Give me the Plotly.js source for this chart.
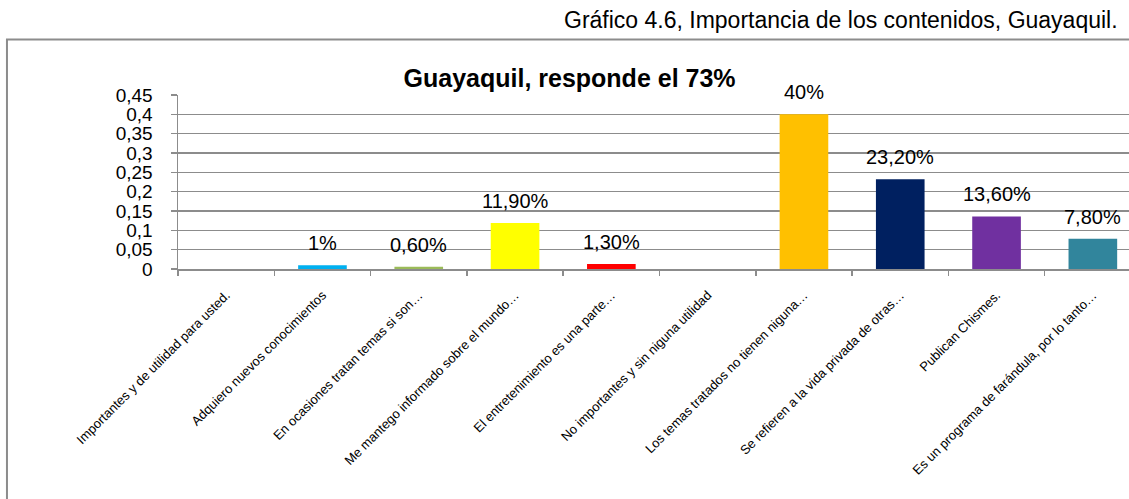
<!DOCTYPE html>
<html>
<head>
<meta charset="utf-8">
<script src="https://cdn.plot.ly/plotly-3.0.1.min.js"></script>
<style>
html,body{margin:0;padding:0;overflow:hidden;background:#fff;width:1129px;height:499px;}
#chart{width:1160px;height:499px;}
</style>
</head>
<body>
<div id="chart"></div>
<script>
const categories = [
  "Importantes y de utilidad para usted.",
  "Adquiero nuevos conocimientos",
  "En ocasiones tratan temas si son…",
  "Me mantego informado sobre el mundo…",
  "El entretenimiento es una parte…",
  "No importantes y sin niguna utilidad",
  "Los temas tratados no tienen niguna…",
  "Se refieren a la vida privada de otras…",
  "Publican Chismes.",
  "Es un programa de farándula, por lo tanto…"
];
const values = [0, 0.01, 0.006, 0.119, 0.013, 0, 0.40, 0.232, 0.136, 0.078];
const valueLabels = ["", "1%", "0,60%", "11,90%", "1,30%", "", "40%", "23,20%", "13,60%", "7,80%"];
const barColors = ["#4F81BD", "#00B0F0", "#9BBB59", "#FFFF00", "#FF0000", "#4F81BD", "#FFC000", "#002060", "#7030A0", "#31859C"];
const yTicks = [0, 0.05, 0.1, 0.15, 0.2, 0.25, 0.3, 0.35, 0.4, 0.45];
const chartTitle = "Guayaquil, responde el 73%";
const heading = "Gráfico 4.6, Importancia de los contenidos, Guayaquil.";

const FONT = "Liberation Sans, Arial, sans-serif";
const GRID = "#8c8c8c";

const trace = {
  type: "bar",
  x: categories,
  y: values,
  marker: {color: barColors, line: {width: 0}},
  width: 0.505,
  hoverinfo: "x+y"
};

const annotations = categories.map((c, i) => ({
  x: c, y: values[i], xref: "x", yref: "y",
  text: valueLabels[i], showarrow: false,
  yanchor: "middle", yshift: 22,
  font: {family: FONT, size: 20, color: "#000"}
}));
annotations.push({
  xref: "paper", yref: "paper", x: 0.978, y: 1.431,
  xanchor: "right", yanchor: "middle",
  text: heading, showarrow: false,
  font: {family: FONT, size: 23, color: "#000"}
});

const layout = {
  width: 1160, height: 499,
  margin: {l: 178, r: 19, t: 95, b: 230, pad: 0},
  paper_bgcolor: "#fff", plot_bgcolor: "#fff",
  separators: ",.",
  showlegend: false,
  bargap: 0.495,
  title: {
    text: "<b>" + chartTitle + "</b>",
    xref: "container", yref: "container",
    x: 0.491, y: 0.843, xanchor: "center", yanchor: "middle",
    font: {family: FONT, size: 25, color: "#000"}
  },
  xaxis: {
    type: "category",
    showline: true, linecolor: GRID, linewidth: 1.5,
    ticks: "outside", ticklen: 5, tickcolor: GRID, tickwidth: 1.5,
    tickson: "boundaries",
    tickangle: -45,
    ticklabelstandoff: 12,
    tickfont: {family: FONT, size: 13, color: "#000"},
    showgrid: false, automargin: false, fixedrange: true
  },
  yaxis: {
    range: [0, 0.45],
    tickvals: yTicks,
    showline: true, linecolor: GRID, linewidth: 1.5,
    ticks: "outside", ticklen: 6, tickcolor: GRID, tickwidth: 1.5,
    ticklabelstandoff: 14,
    showgrid: true, gridcolor: GRID, gridwidth: 1.5,
    zeroline: false,
    tickfont: {family: FONT, size: 19, color: "#000"},
    automargin: false, fixedrange: true
  },
  annotations: annotations,
  shapes: [{
    type: "rect", xref: "paper", yref: "paper",
    x0: -0.1776, x1: 1.05, y0: -1.6, y1: 1.319,
    line: {color: "#8c8c8c", width: 2},
    fillcolor: "rgba(0,0,0,0)", layer: "below"
  }]
};

Plotly.newPlot("chart", [trace], layout, {displayModeBar: false, staticPlot: true});
</script>
</body>
</html>
